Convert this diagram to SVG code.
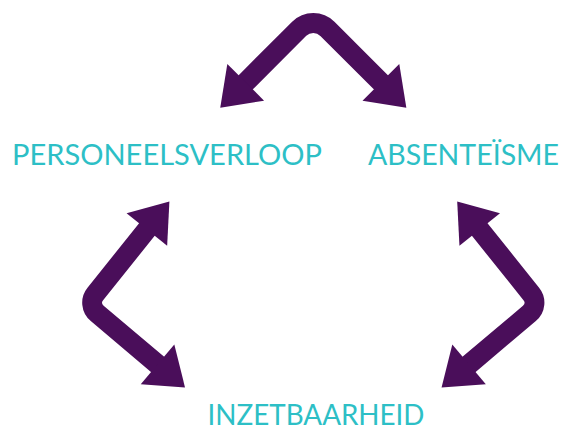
<svg xmlns="http://www.w3.org/2000/svg" width="561" height="430" viewBox="0 0 561 430">
  <style>
    .lbl { font-family: Lato, "Open Sans", "Liberation Sans", sans-serif; font-weight: 400; font-size: 28px; fill: #2dbfc6; }
    .arrow { fill: none; stroke: #4a0e5a; stroke-width: 20; stroke-linecap: butt; stroke-linejoin: round; marker-start: url(#head); marker-end: url(#head); }
  </style>
  <defs>
    <marker id="head" markerUnits="userSpaceOnUse" markerWidth="40" markerHeight="54" refX="1" refY="26" orient="auto-start-reverse" overflow="visible">
      <path d="M0,0 L36,26 L0,52 z" fill="#4a0e5a"/>
    </marker>
  </defs>
  <g id="connectors">
    <path id="arrow-top" class="arrow" d="M245,83 L299.2,28.8 A20,20 0 0 1 327.4,28.8 L381.6,83"/>
    <path id="arrow-left" class="arrow" d="M147.5,228.8 L95.3,293.9 A14,14 0 0 0 97.2,313.4 L158.3,365"/>
    <path id="arrow-right" class="arrow" d="M479.1,228.8 L531.3,293.9 A14,14 0 0 1 529.4,313.4 L468.3,365"/>
  </g>
  <g id="node-personeelsverloop">
    <text class="lbl" x="12" y="164.5" textLength="310" lengthAdjust="spacingAndGlyphs">PERSONEELSVERLOOP</text>
  </g>
  <g id="node-absenteisme">
    <text class="lbl" x="368" y="164.5" textLength="191" lengthAdjust="spacingAndGlyphs">ABSENTEÏSME</text>
  </g>
  <g id="node-inzetbaarheid">
    <text class="lbl" x="207.5" y="425" textLength="217" lengthAdjust="spacingAndGlyphs">INZETBAARHEID</text>
  </g>
</svg>
